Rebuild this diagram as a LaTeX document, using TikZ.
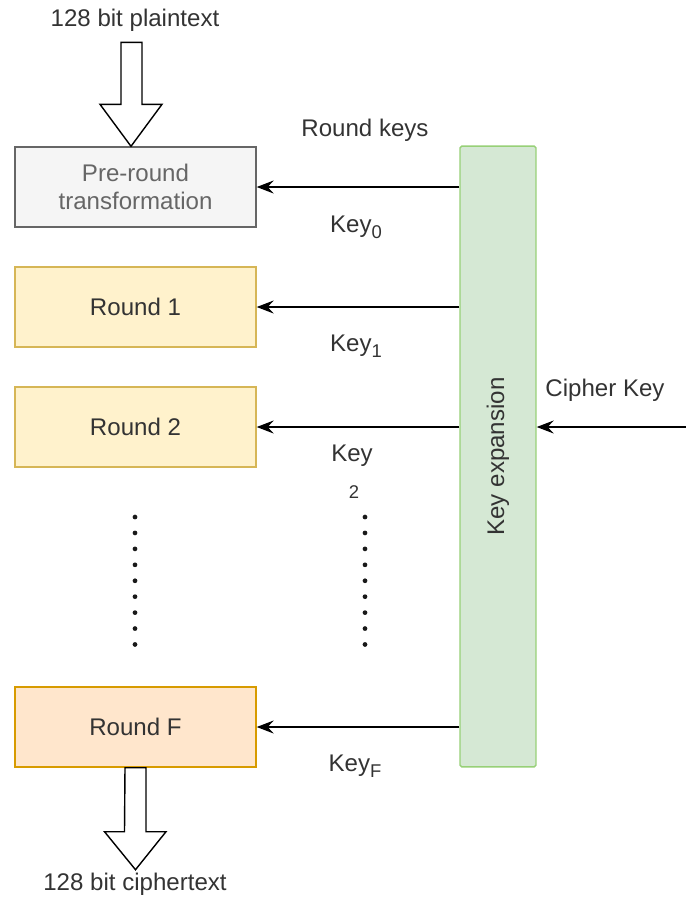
\documentclass[tikz,border=0pt]{standalone}
\usepackage{fontspec}
\setmainfont{Liberation Sans}
\usetikzlibrary{arrows.meta, calc}

\definecolor{preFill}{HTML}{F5F5F5}
\definecolor{preDraw}{HTML}{666666}
\definecolor{roundFill}{HTML}{FFF2CC}
\definecolor{roundDraw}{HTML}{D6B656}
\definecolor{finalFill}{HTML}{FFE6CC}
\definecolor{finalDraw}{HTML}{D79B00}
\definecolor{keyFill}{HTML}{D5E8D4}
\definecolor{keyDraw}{HTML}{97D077}
\definecolor{txt}{HTML}{333333}

\newcommand{\keysub}[1]{\raisebox{-0.5ex}{\fontsize{10.5}{11}\selectfont #1}}

\begin{document}
\begin{tikzpicture}[
    x=0.02cm, y=-0.02cm,
    font=\fontsize{13.7}{16}\selectfont,
    stage/.style={
        rectangle, line width=0.8pt,
        minimum width=4.82cm, minimum height=1.6cm,
        align=center, text=txt
    },
    preround/.style={stage, draw=preDraw, fill=preFill, text=black!60},
    roundbox/.style={stage, draw=roundDraw, fill=roundFill},
    finalbox/.style={stage, draw=finalDraw, fill=finalFill},
    keybox/.style={
        rectangle, rounded corners=1pt, line width=0.8pt,
        draw=keyDraw, fill=keyFill,
        minimum width=1.52cm, minimum height=12.42cm
    },
    keyflow/.style={-{Stealth[length=3.4mm, width=2.6mm, inset=1.2mm]}, line width=0.8pt, draw=black},
    bigarrow/.style={draw=black, line width=0.8pt, fill=white},
    label/.style={text=txt},
    dots/.style={line width=2.7pt, line cap=round, dash pattern=on 0pt off 9.07pt, draw=black!90}
]
\useasboundingbox (0,0) rectangle (686,897);

% ============ Cipher stages ============
\node[preround] (pre) at (135.5,187) {Pre-round\\transformation};
\node[roundbox] (round1) at (135.5,307) {Round 1};
\node[roundbox] (round2) at (135.5,427) {Round 2};
\node[finalbox] (roundF) at (135.5,727) {Round F};

% ============ Key schedule ============
\node[keybox] (keyexp) at (498,456.5) {};
\node[rotate=90, text=txt] at (keyexp.center) {Key expansion};
\coordinate (cipherin) at (686,427);

% ============ Plaintext / ciphertext ============
\node[label] (plain) at (135,20) {128 bit plaintext};
\node[label] (cipher) at (135,884) {128 bit ciphertext};
% block arrow into the pre-round box (tip on its top edge)
\draw[bigarrow] ($(pre.north)+(-14.5,-104)$) -- ++(21,0) -- ++(0,62)
    -- ++(20,0) -- ($(pre.north)+(-4.5,0)$) -- ++(-31,-42) -- ++(21,0) -- cycle;
% block arrow out of the last round
\draw[bigarrow] ($(roundF.south)+(-10.5,0)$) -- ++(21,0) -- ++(0,64)
    -- ++(20,0) -- ($(roundF.south)+(0,102)$) -- ++(-31,-38) -- ++(20,0) -- cycle;

% ============ Round key arrows ============
\draw[keyflow] (keyexp.west |- pre.east) -- (pre.east);
\draw[keyflow] (keyexp.west |- round1.east) -- (round1.east);
\draw[keyflow] (keyexp.west |- round2.east) -- (round2.east);
\draw[keyflow] (keyexp.west |- roundF.east) -- (roundF.east);
\draw[keyflow] (cipherin) -- (keyexp.east |- cipherin);

% ============ Labels ============
\node[label] (roundkeys) at (365,130) {Round keys};
\node[label] (key0) at (356,227) {Key\keysub{0}};
\node[label] (key1) at (356,346) {Key\keysub{1}};
\node[label] (key2) at (352,456) {Key};
\node[label, font=\fontsize{10.5}{11}\selectfont] (key2sub) at (354,492) {2};
\node[label] (keyF) at (355,766) {Key\keysub{F}};
\node[label] (cipherkey) at (605,390) {Cipher Key};

% ============ Omitted rounds ============
\draw[dots] (135,517) -- (135,646);
\draw[dots] (365,517) -- (365,646);

\end{tikzpicture}
\end{document}
